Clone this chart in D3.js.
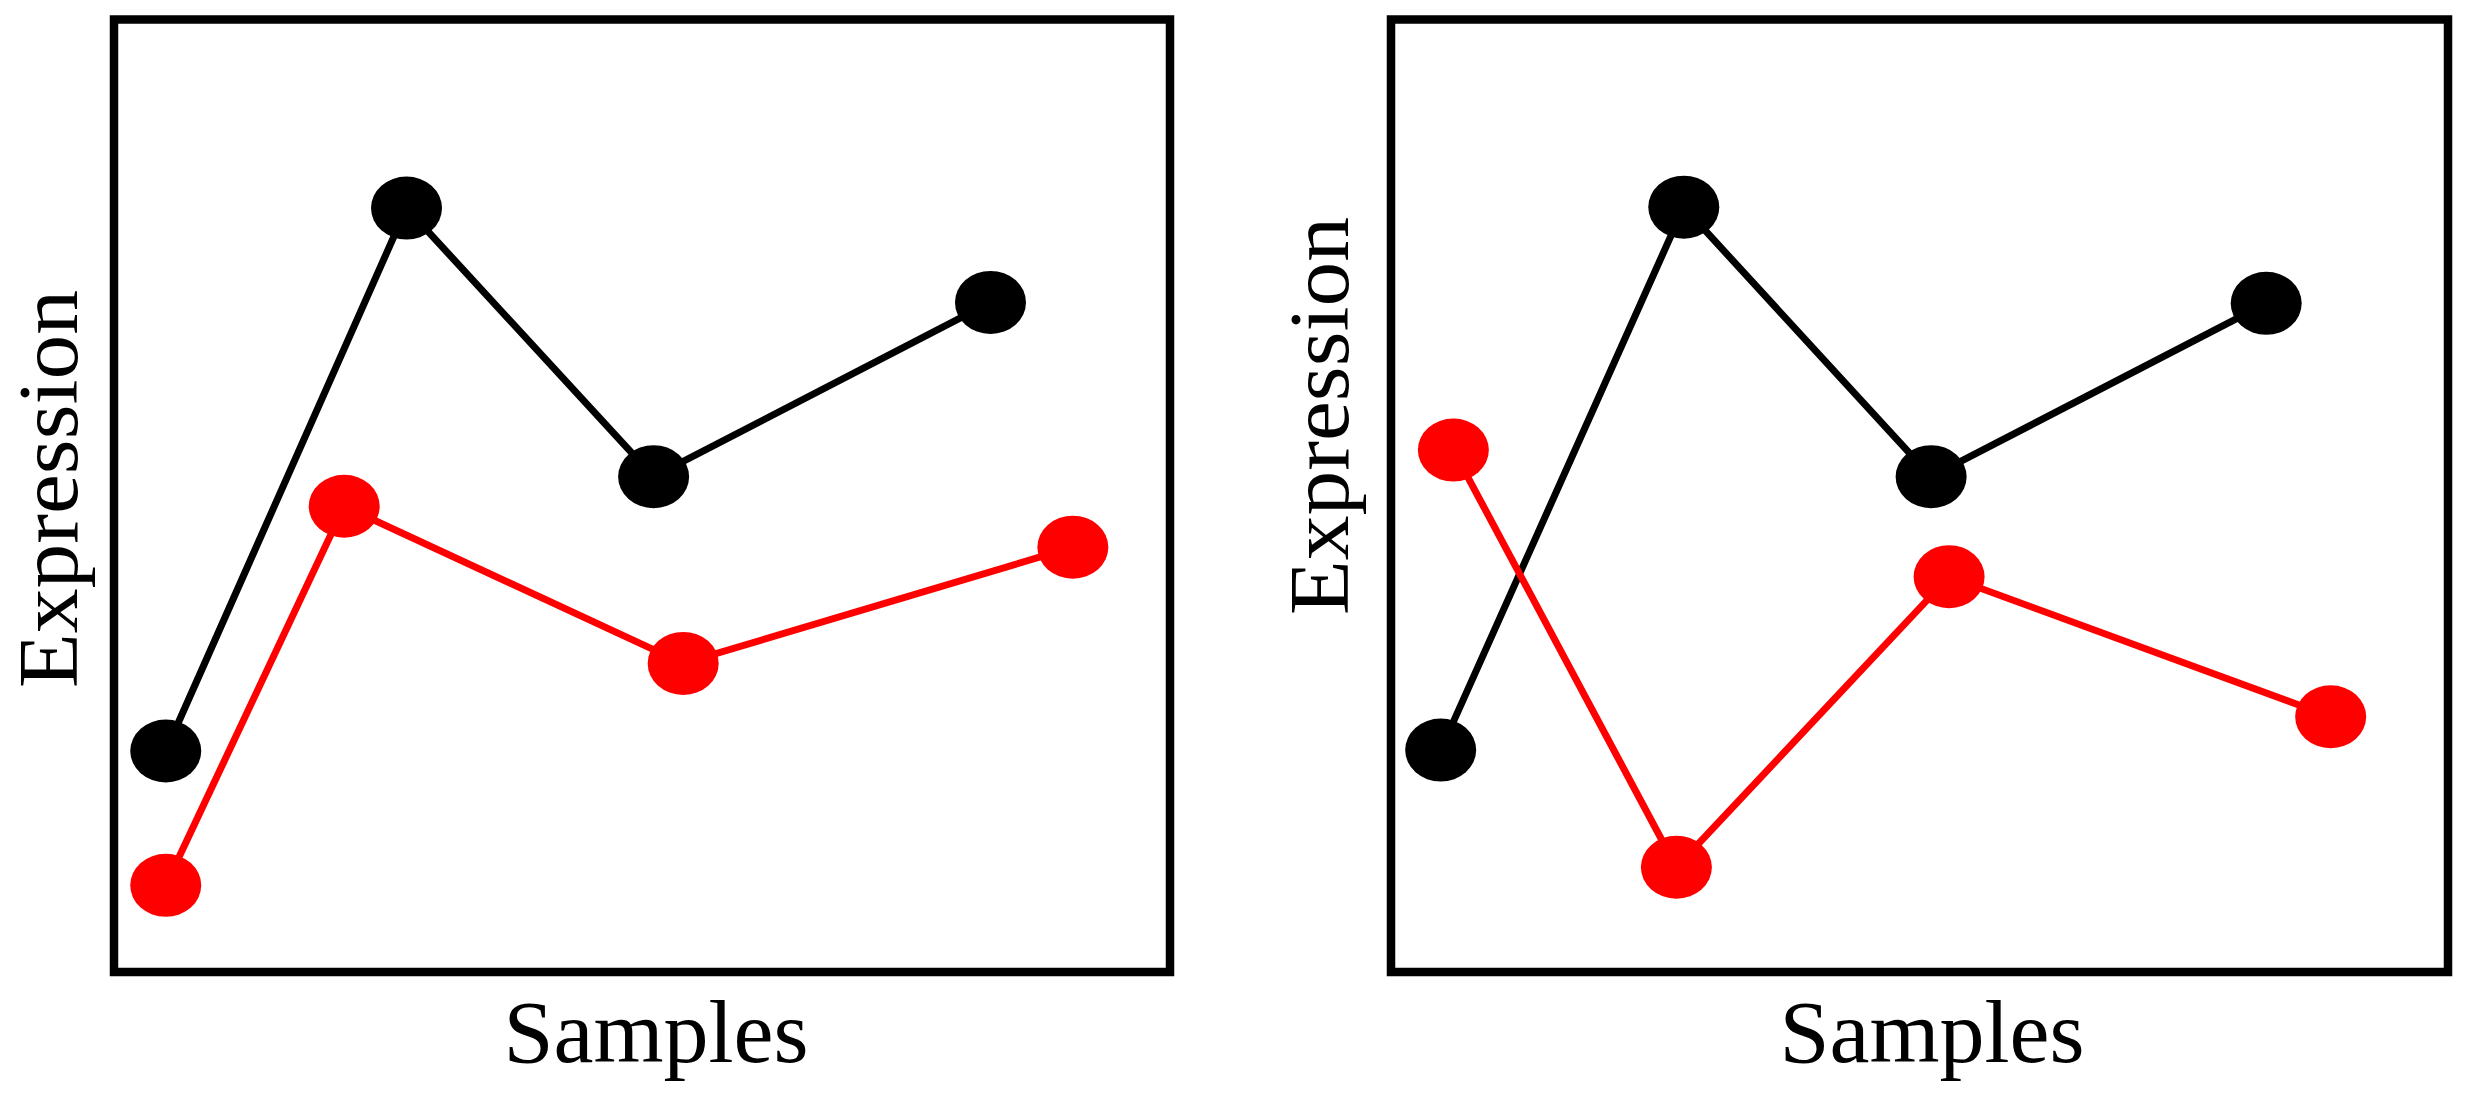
<!DOCTYPE html>
<html>
<head>
<meta charset="utf-8">
<script src="https://cdn.jsdelivr.net/npm/d3@7"></script>
<style>
  html, body { margin: 0; padding: 0; background: #fff; }
  svg { display: block; }
</style>
</head>
<body>
<svg id="chart" width="2468" height="1117"></svg>
<script>
// ---- data (arbitrary units) ----
const samplesLabel = "Samples";
const expressionLabel = "Expression";

// panel A
const panelA_blackX = [0.49, 2.77, 5.11, 8.30];
const panelA_blackY = [2.32, 8.02, 5.20, 7.03];
const panelA_redX   = [0.49, 2.18, 5.39, 9.08];
const panelA_redY   = [0.91, 4.89, 3.24, 4.46];

// panel B
const panelB_blackX = [0.47, 2.77, 5.11, 8.28];
const panelB_blackY = [2.33, 8.03, 5.20, 7.02];
const panelB_redX   = [0.59, 2.70, 5.28, 8.89];
const panelB_redY   = [5.48, 1.10, 4.15, 2.68];

(function () {
  const panels = [
    { x0: 114, x1: 1170, series: [
        { color: "#000000", xs: panelA_blackX, ys: panelA_blackY },
        { color: "#ff0000", xs: panelA_redX,   ys: panelA_redY } ],
      ylabX: 77, ylabY: 489, xlabX: 656 },
    { x0: 1391, x1: 2448, series: [
        { color: "#000000", xs: panelB_blackX, ys: panelB_blackY },
        { color: "#ff0000", xs: panelB_redX,   ys: panelB_redY } ],
      ylabX: 1348, ylabY: 416, xlabX: 1932 }
  ];

  const frameTop = 19.5, frameBottom = 972;
  const svg = d3.select("#chart");

  panels.forEach(p => {
    const x = d3.scaleLinear().domain([0, 10]).range([p.x0, p.x1]);
    const y = d3.scaleLinear().domain([0, 10]).range([frameBottom, frameTop]);
    const g = svg.append("g");

    p.series.forEach(s => {
      const pts = s.xs.map((v, i) => [v, s.ys[i]]);
      g.append("path")
        .datum(pts)
        .attr("fill", "none")
        .attr("stroke", s.color)
        .attr("stroke-width", 7)
        .attr("d", d3.line().x(d => x(d[0])).y(d => y(d[1])));
      g.selectAll(null)
        .data(pts)
        .enter()
        .append("ellipse")
        .attr("cx", d => x(d[0]))
        .attr("cy", d => y(d[1]))
        .attr("rx", 35.5)
        .attr("ry", 31.5)
        .attr("fill", s.color);
    });

    // frame
    g.append("rect")
      .attr("x", x(0)).attr("y", y(10))
      .attr("width", x(10) - x(0)).attr("height", y(0) - y(10))
      .attr("fill", "none")
      .attr("stroke", "#000")
      .attr("stroke-width", 8.5);

    // axis titles
    g.append("text")
      .attr("x", p.xlabX).attr("y", 1062)
      .attr("text-anchor", "middle")
      .attr("font-family", "'Liberation Serif', 'DejaVu Serif', serif")
      .attr("font-size", 89)
      .attr("textLength", 305)
      .attr("lengthAdjust", "spacingAndGlyphs")
      .attr("fill", "#000")
      .text(samplesLabel);

    g.append("text")
      .attr("transform", `translate(${p.ylabX},${p.ylabY}) rotate(-90)`)
      .attr("text-anchor", "middle")
      .attr("font-family", "'Liberation Serif', 'DejaVu Serif', serif")
      .attr("font-size", 85)
      .attr("textLength", 398)
      .attr("lengthAdjust", "spacingAndGlyphs")
      .attr("fill", "#000")
      .text(expressionLabel);
  });
})();
</script>
</body>
</html>
